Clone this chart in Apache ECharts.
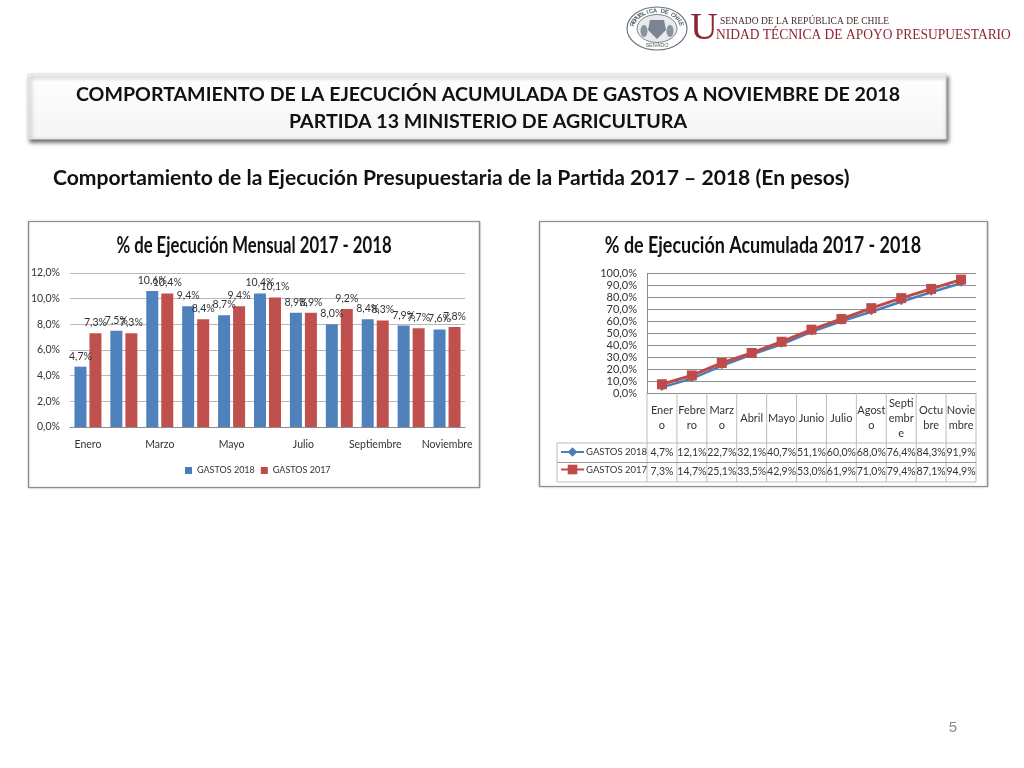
<!DOCTYPE html>
<html><head><meta charset="utf-8">
<style>html,body{margin:0;padding:0;background:#fff}#c{width:1024px;height:768px}</style>
<script src="https://cdn.jsdelivr.net/npm/echarts@6/dist/echarts.min.js"></script>
</head><body><div id="c"></div>
<script>
const months = ['Enero','Febrero','Marzo','Abril','Mayo','Junio','Julio','Agosto','Septiembre','Octubre','Noviembre'];
const tableMonths = ['Ener\no','Febre\nro','Marz\no','Abril','Mayo','Junio','Julio','Agost\no','Septi\nembr\ne','Octu\nbre','Novie\nmbre'];
const monthly2018 = [4.7,7.5,10.6,9.4,8.7,10.4,8.9,8.0,8.4,7.9,7.6];
const monthly2017 = [7.3,7.3,10.4,8.4,9.4,10.1,8.9,9.2,8.3,7.7,7.8];
const cumulative2018 = [4.7,12.1,22.7,32.1,40.7,51.1,60.0,68.0,76.4,84.3,91.9];
const cumulative2017 = [7.3,14.7,25.1,33.5,42.9,53.0,61.9,71.0,79.4,87.1,94.9];
const S18='GASTOS 2018', S17='GASTOS 2017';
const heading1='COMPORTAMIENTO DE LA EJECUCIÓN ACUMULADA DE GASTOS A NOVIEMBRE DE 2018';
const heading2='PARTIDA 13 MINISTERIO DE AGRICULTURA';
const subheading='Comportamiento de la Ejecución Presupuestaria de la Partida 2017 – 2018 (En pesos)';
const chartTitleL='% de Ejecución Mensual 2017 - 2018';
const chartTitleR='% de Ejecución Acumulada 2017 - 2018';

const fmt=v=>v.toFixed(1).replace('.',',')+'%';
const FONT='Lato';
const TXT='#333';
const BLUE='#4F81BD',RED='#C0504D';

const frame=(x,y,w,h)=>({type:'rect',shape:{x,y,width:w,height:h},style:{fill:'#fff',stroke:'#8f8f8f',lineWidth:1.2,shadowBlur:2,shadowColor:'rgba(0,0,0,.25)'},z:-5});
const text=(x,y,t,o,sx)=>({type:'text',x,y,scaleX:sx||1,style:Object.assign({text:t,fill:'#111',fontFamily:FONT,fontWeight:'bold',fontSize:20,align:'center',verticalAlign:'middle'},o||{}),z:5});
const ln=(x1,y1,x2,y2,c)=>({type:'line',shape:{x1,y1,x2,y2},style:{stroke:c||'#bdbdbd',lineWidth:1},z:1});

const gridR={x0:647,x1:976,y0:273.5,y1:393};
const tableLines=[];
const colW=(gridR.x1-gridR.x0)/months.length;
for(let i=0;i<=months.length;i++){const x=gridR.x0+i*colW;tableLines.push(ln(x,gridR.y1,x,482));}
[443,462.5,482].forEach(y=>tableLines.push(ln(557,y,gridR.x1,y,y===462.5?'#9a9a9a':'#bdbdbd')));
tableLines.push(ln(557,443,557,482));

// seal
const sealC=[657,28.5];
const seal=[
 {type:'ellipse',shape:{cx:sealC[0],cy:sealC[1],rx:30,ry:21.5},style:{fill:'#fff',stroke:'#6d7680',lineWidth:1.2},z:3},
 {type:'ellipse',shape:{cx:sealC[0],cy:sealC[1],rx:20,ry:14},style:{fill:'#e8eaee',stroke:'#7a828c',lineWidth:1},z:3},
 {type:'polygon',shape:{points:[[650,20],[664,20],[666,30],[657,39],[648,30]]},style:{fill:'#5f6a78',opacity:.8},z:4},
 {type:'ellipse',shape:{cx:644,cy:31,rx:3.5,ry:6},style:{fill:'#8a929c'},z:4},
 {type:'ellipse',shape:{cx:670,cy:31,rx:3.5,ry:6},style:{fill:'#8a929c'},z:4}
];
const sealTop='REPUBLICA DE CHILE';
[...sealTop].forEach((ch,i)=>{
  const a=Math.PI*(1.08+0.84*(i/(sealTop.length-1)));
  seal.push({type:'text',x:sealC[0]+25*Math.cos(a),y:sealC[1]+17.5*Math.sin(a),rotation:-(a+Math.PI/2),
    style:{text:ch,fontSize:6,fontFamily:'Liberation Sans',fontWeight:'bold',fill:'#566',align:'center',verticalAlign:'middle'},z:4});
});
seal.push({type:'text',x:sealC[0],y:45.5,style:{text:'SENADO',fontSize:5.5,fontFamily:'Liberation Sans',fill:'#566',align:'center',verticalAlign:'middle'},z:4});

const graphic=[
 frame(28.5,221.5,451,266), frame(539.5,221.5,448,265),
 {type:'rect',shape:{x:28,y:74,width:918,height:65},style:{fill:{type:'linear',x:0,y:0,x2:0,y2:1,colorStops:[{offset:0,color:'#fff'},{offset:1,color:'#f4f4f4'}]},stroke:'#e0e0e0',lineWidth:1,shadowBlur:4,shadowOffsetX:2,shadowOffsetY:3,shadowColor:'rgba(0,0,0,.6)'},z:0},
 text(488,94.5,heading1,{fontSize:19.6}),
 text(488,122,heading2,{fontSize:19.6}),
 text(53,178,subheading,{align:'left',fontSize:21.1}),
 text(254,245.5,chartTitleL,{fontSize:23},0.727),
 text(763,245.5,chartTitleR,{fontSize:23},0.78),
 text(953,728,'5',{fontFamily:'Liberation Sans',fontWeight:'normal',fontSize:15,fill:'#8a8a8a'}),
 text(704,29,'U',{fontFamily:'Liberation Serif',fontWeight:'normal',fontSize:38,fill:'#8c2633'}),
 text(720,21,'SENADO DE LA REPÚBLICA DE CHILE',{align:'left',fontFamily:'Liberation Serif',fontWeight:'normal',fontSize:9.5,fill:'#4a2a30'}),
 text(716,35.5,'NIDAD TÉCNICA DE APOYO PRESUPUESTARIO',{align:'left',fontFamily:'Liberation Serif',fontWeight:'normal',fontSize:14.5,fill:'#8c2633'},0.93),
 ...seal, ...tableLines
];

const catAxisR=(data,margin,size,extra)=>Object.assign({type:'category',gridIndex:1,position:'bottom',data,axisLine:{show:false},axisTick:{show:false},
  axisLabel:{interval:0,margin,color:TXT,fontFamily:FONT,fontSize:size,verticalAlign:'middle',lineHeight:15,hideOverlap:false}},extra||{});

const option={
 animation:false,
 textStyle:{fontFamily:FONT},
 graphic:{elements:graphic},
 grid:[{left:70,right:1024-465,top:273,height:154},{left:gridR.x0,width:gridR.x1-gridR.x0,top:gridR.y0,height:gridR.y1-gridR.y0}],
 legend:[
  {data:[{name:S18,icon:'rect'},{name:S17,icon:'rect'}],left:180,top:461,itemWidth:7,itemHeight:7,itemGap:6,selectedMode:false,
   textStyle:{color:TXT,fontFamily:FONT,fontSize:9}},
  {data:[S18,S17],orient:'vertical',left:555,top:442,itemWidth:23,itemHeight:12,itemGap:7.5,selectedMode:false,
   textStyle:{color:TXT,fontFamily:FONT,fontSize:9.5,padding:[0,0,0,-3]}}
 ],
 xAxis:[
  {type:'category',gridIndex:0,position:'bottom',data:months,axisLine:{lineStyle:{color:'#8c8c8c'}},axisTick:{show:false},
   axisLabel:{interval:1,margin:12,color:TXT,fontFamily:FONT,fontSize:10.5,hideOverlap:false}},
  catAxisR(tableMonths,25,11,{axisLine:{show:true,lineStyle:{color:'#8c8c8c'}}}),
  catAxisR(cumulative2018.map(fmt),60,10.5),
  catAxisR(cumulative2017.map(fmt),79,10.5)
 ],
 yAxis:[
  {type:'value',gridIndex:0,min:0,max:12,interval:2,axisLine:{show:false},axisTick:{show:false},
   splitLine:{lineStyle:{color:'#b8b8b8'}},axisLabel:{margin:10,color:TXT,fontFamily:FONT,fontSize:10.5,formatter:fmt}},
  {type:'value',gridIndex:1,min:0,max:100,interval:10,axisLine:{show:true,lineStyle:{color:'#8c8c8c'}},axisTick:{show:false},
   splitLine:{lineStyle:{color:'#8f8f8f'}},axisLabel:{margin:10,color:TXT,fontFamily:FONT,fontSize:11,formatter:fmt}}
 ],
 series:[
  {name:S18,type:'line',xAxisIndex:1,yAxisIndex:1,data:cumulative2018,symbol:'diamond',symbolSize:7,lineStyle:{width:2.5,color:'#4A7EBB'},itemStyle:{color:'#4A7EBB'},z:3},
  {name:S17,type:'line',xAxisIndex:1,yAxisIndex:1,data:cumulative2017,symbol:'rect',symbolSize:10,lineStyle:{width:3,color:'#BE4B48'},itemStyle:{color:'#BE4B48'},z:4},
  {name:S18,type:'bar',xAxisIndex:0,yAxisIndex:0,data:monthly2018,barWidth:12,barGap:'25%',itemStyle:{color:BLUE},
   label:{show:true,position:'top',color:TXT,fontFamily:FONT,fontSize:10.5,formatter:p=>fmt(p.value)}},
  {name:S17,type:'bar',xAxisIndex:0,yAxisIndex:0,data:monthly2017,barWidth:12,itemStyle:{color:RED},
   label:{show:true,position:'top',color:TXT,fontFamily:FONT,fontSize:10.5,formatter:p=>fmt(p.value)}}
 ]
};
const chart=echarts.init(document.getElementById('c'));
chart.setOption(option);
</script></body></html>
